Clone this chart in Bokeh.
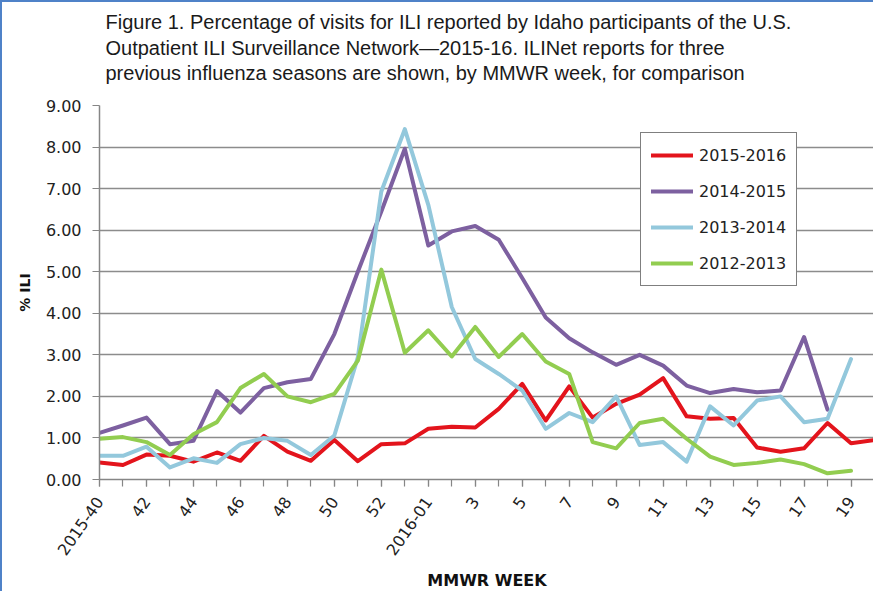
import math
from bokeh.plotting import figure
from bokeh.models import FixedTicker, Legend, LegendItem, Range1d, NumeralTickFormatter, Label
from bokeh.embed import file_html
from bokeh.resources import INLINE

# MMWR weeks 2015-40 .. 2016-20 (2015 has 53 weeks)
week_index = list(range(34))
tick_positions = [0, 2, 4, 6, 8, 10, 12, 14, 16, 18, 20, 22, 24, 26, 28, 30, 32]
tick_labels = ["2015-40", "42", "44", "46", "48", "50", "52", "2016-01",
               "3", "5", "7", "9", "11", "13", "15", "17", "19"]

s2015_2016 = [0.41, 0.35, 0.60, 0.57, 0.43, 0.65, 0.45, 1.05, 0.67, 0.45, 0.95, 0.44,
              0.85, 0.87, 1.22, 1.27, 1.25, 1.70, 2.30, 1.42, 2.24, 1.49, 1.82, 2.04,
              2.44, 1.52, 1.46, 1.48, 0.77, 0.67, 0.75, 1.36, 0.87, 0.95]
s2014_2015 = [1.12, 1.30, 1.49, 0.85, 0.93, 2.13, 1.61, 2.20, 2.34, 2.42, 3.50, 5.00,
              6.45, 7.96, 5.63, 5.97, 6.10, 5.77, 4.85, 3.90, 3.40, 3.06, 2.76, 3.00,
              2.74, 2.26, 2.08, 2.18, 2.10, 2.14, 3.43, 1.68]
s2013_2014 = [0.57, 0.57, 0.79, 0.29, 0.51, 0.40, 0.85, 1.00, 0.93, 0.59, 1.06, 2.94,
              6.93, 8.43, 6.61, 4.15, 2.90, 2.54, 2.14, 1.22, 1.60, 1.38, 2.00, 0.83,
              0.90, 0.43, 1.76, 1.30, 1.90, 2.00, 1.38, 1.46, 2.90]
s2012_2013 = [0.98, 1.02, 0.90, 0.59, 1.09, 1.38, 2.20, 2.54, 2.00, 1.86, 2.06, 2.86,
              5.05, 3.05, 3.59, 2.96, 3.67, 2.95, 3.50, 2.84, 2.54, 0.90, 0.75, 1.36,
              1.46, 0.98, 0.55, 0.35, 0.40, 0.48, 0.37, 0.15, 0.21]

series_names = ["2015-2016", "2014-2015", "2013-2014", "2012-2013"]
series_values = [s2015_2016, s2014_2015, s2013_2014, s2012_2013]
series_colors = ["#E3141C", "#7D60A0", "#93C8DC", "#92CD50"]

title_lines = ["Figure 1. Percentage of visits for ILI reported by Idaho participants of the U.S.",
               "Outpatient ILI Surveillance Network\u20142015-16. ILINet reports for three",
               "previous influenza seasons are shown, by MMWR week, for comparison"]

W, H = 873, 591
BL, BR, BT, BB = 97, 1, 103, 111
p = figure(width=W, height=H, output_backend="svg", toolbar_location=None,
           x_range=Range1d(0, 33), y_range=Range1d(0, 9),
           min_border_left=BL, min_border_right=BR, min_border_top=BT, min_border_bottom=BB)
p.styles = {"border-left": "2px solid #4F82C8", "border-top": "2px solid #4F82C8"}

# each label sits in its own stacked panel above the frame (first = nearest the frame)
title_y = [84, 36, -11]
for line, yy in zip(title_lines, title_y):
    p.add_layout(Label(x=6, y=yy, x_units="screen", y_units="screen",
                       text=line, text_font="Liberation Sans", text_font_size="20px",
                       text_color="#1a1a1a", text_baseline="middle", text_align="left"),
                 "above")

p.outline_line_color = None
p.background_fill_color = "white"
p.border_fill_color = "white"

p.xgrid.grid_line_color = None
p.ygrid.grid_line_color = "#8C8C8C"
p.ygrid.grid_line_width = 1.5

p.xaxis.ticker = FixedTicker(ticks=tick_positions, minor_ticks=week_index)
p.xaxis.major_label_overrides = {pos: lab for pos, lab in zip(tick_positions, tick_labels)}
p.xaxis.major_label_orientation = math.radians(55)
p.yaxis.ticker = FixedTicker(ticks=list(range(10)))
p.yaxis.formatter = NumeralTickFormatter(format="0.00")

for ax in (p.xaxis[0], p.yaxis[0]):
    ax.axis_line_color = "#868686"
    ax.axis_line_width = 1.5
    ax.major_tick_line_color = "#868686"
    ax.major_tick_line_width = 1.2
    ax.minor_tick_line_color = "#868686"
    ax.minor_tick_line_width = 1.2
    ax.major_tick_in = 0
    ax.major_tick_out = 7
    ax.minor_tick_in = 0
    ax.minor_tick_out = 7
    ax.major_label_text_font = "DejaVu Sans"
    ax.major_label_text_font_size = "16px"
    ax.major_label_text_color = "#222222"
    ax.axis_label_text_font = "DejaVu Sans"
    ax.axis_label_text_font_style = "bold"
    ax.axis_label_text_color = "#111111"

p.yaxis.minor_tick_out = 0
p.yaxis.major_label_standoff = 11
p.yaxis.axis_label = "% ILI"
p.yaxis.axis_label_text_font_size = "14px"
p.yaxis.axis_label_standoff = 10

p.xaxis.major_label_standoff = 12
p.xaxis.axis_label = "MMWR WEEK"
p.xaxis.axis_label_text_font_size = "16px"
p.xaxis.axis_label_standoff = 8

renderers = []
for name, vals, col in zip(series_names, series_values, series_colors):
    r = p.line(week_index[:len(vals)], vals, line_color=col, line_width=4,
               line_join="round", line_cap="round")
    renderers.append((name, r))

legend = Legend(items=[LegendItem(label=n, renderers=[r]) for n, r in renderers],
                location=(541, 193))
legend.border_line_color = "black"
legend.border_line_width = 1
legend.background_fill_color = "white"
legend.background_fill_alpha = 1
legend.padding = 10
legend.spacing = 12
legend.label_height = 24
legend.glyph_height = 24
legend.glyph_width = 42
legend.label_standoff = 6
legend.margin = 0
legend.label_text_font = "DejaVu Sans"
legend.label_text_font_size = "16px"
legend.label_text_color = "#222222"
p.add_layout(legend, "center")

open("out.html", "w").write(file_html(p, INLINE))
